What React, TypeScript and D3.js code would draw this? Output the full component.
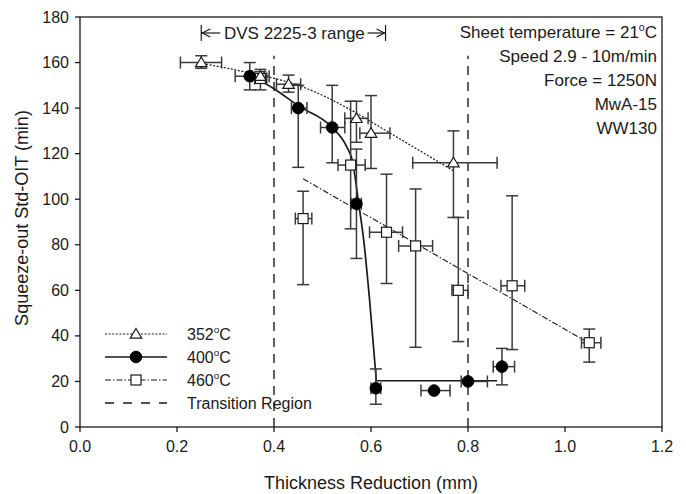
import React from "react";
import * as d3 from "d3";

// ---- data ----
const xTicks = [0.0, 0.2, 0.4, 0.6, 0.8, 1.0, 1.2];
const yTicks = [0, 20, 40, 60, 80, 100, 120, 140, 160, 180];

// 352 °C (open triangles)
const x352 = [0.25, 0.372, 0.43, 0.57, 0.6, 0.77];
const x352Lo = [0.207, 0.355, 0.405, 0.546, 0.577, 0.686];
const x352Hi = [0.292, 0.39, 0.455, 0.594, 0.639, 0.86];
const y352 = [160, 154, 150.5, 135.5, 129, 116];
const y352Lo = [157.5, 151, 147, 125, 113.5, 92];
const y352Hi = [163, 157, 154.5, 143, 145.5, 130];

// 400 °C (filled circles)
const x400 = [0.35, 0.45, 0.52, 0.57, 0.61, 0.73, 0.8, 0.87];
const x400Lo = [0.32, 0.436, 0.496, 0.56, 0.6, 0.703, 0.786, 0.852];
const x400Hi = [0.38, 0.468, 0.546, 0.58, 0.62, 0.763, 0.84, 0.896];
const y400 = [154, 140, 131.5, 98, 17, 16, 20, 26.5];
const y400Lo = [148, 114, 116, 74, 10, 16, 20, 18.5];
const y400Hi = [160, 150, 150, 122, 25.5, 16, 20, 34.5];

// 460 °C (open squares)
const x460 = [0.372, 0.46, 0.558, 0.632, 0.692, 0.78, 0.891, 1.05];
const x460Lo = [0.36, 0.444, 0.532, 0.597, 0.657, 0.767, 0.868, 1.034];
const x460Hi = [0.385, 0.478, 0.588, 0.665, 0.727, 0.8, 0.917, 1.074];
const y460 = [153, 91.5, 115, 85.5, 79.5, 60, 62, 37];
const y460Lo = [148, 62.5, 87, 63, 35, 37.5, 34, 28.5];
const y460Hi = [156, 103.5, 143, 111, 104.5, 92, 101.5, 43];

// fitted curves
const fit352X = [0.26, 0.344, 0.454, 0.572, 0.62, 0.77];
const fit352Y = [159.3, 155.7, 149.7, 137.6, 131.5, 112.5];
const fit400X = [0.35, 0.4, 0.45, 0.52, 0.55, 0.563, 0.569, 0.574, 0.585, 0.597, 0.611];
const fit400Y = [154.5, 148.5, 141, 131.5, 123, 115.6, 107, 99, 82, 56, 20.3];
const flat400X = [0.611, 0.86];
const flat400Y = [20.3, 20.3];
const fit460X = [0.46, 1.04];
const fit460Y = [109, 38];

// transition region lines
const transitionX = [0.4, 0.8];
const transitionTop = 163;

// DVS range
const dvsRange = [0.25, 0.63];

const infoLines = [
  ["Sheet temperature = 21", "C"],
  ["Speed 2.9 - 10m/min", ""],
  ["Force = 1250N", ""],
  ["MwA-15", ""],
  ["WW130", ""],
];

const legendItems = [
  { label: "352", kind: "tri" },
  { label: "400", kind: "circ" },
  { label: "460", kind: "sq" },
  { label: "Transition Region", kind: "trans" },
];

// ---- layout ----
const W = 686;
const H = 494;
const left = 80;
const right = 662;
const top = 17;
const bottom = 427;
const FONT = "'Liberation Sans', Arial, sans-serif";
const INK = "#1a1a1a";
const BAR = "#3a3a3a";

const xS = d3.scaleLinear().domain([0, 1.2]).range([left, right]);
const yS = d3.scaleLinear().domain([0, 180]).range([bottom, top]);

function ErrorBars({ xs, xl, xh, ys, yl, yh }: any) {
  const cap = 6;
  return (
    <g stroke={BAR} strokeWidth={1.5} fill="none">
      {xs.map((x: number, i: number) => {
        const px = xS(x);
        const py = yS(ys[i]);
        const out: any[] = [];
        if (yh[i] !== yl[i]) {
          out.push(<line key="v" x1={px} x2={px} y1={yS(yl[i])} y2={yS(yh[i])} />);
          out.push(<line key="vt" x1={px - cap} x2={px + cap} y1={yS(yh[i])} y2={yS(yh[i])} />);
          out.push(<line key="vb" x1={px - cap} x2={px + cap} y1={yS(yl[i])} y2={yS(yl[i])} />);
        }
        if (xh[i] !== xl[i]) {
          out.push(<line key="h" x1={xS(xl[i])} x2={xS(xh[i])} y1={py} y2={py} />);
          out.push(<line key="hl" x1={xS(xl[i])} x2={xS(xl[i])} y1={py - cap} y2={py + cap} />);
          out.push(<line key="hr" x1={xS(xh[i])} x2={xS(xh[i])} y1={py - cap} y2={py + cap} />);
        }
        return <g key={i}>{out}</g>;
      })}
    </g>
  );
}

function Marker({ kind, cx, cy }: any) {
  if (kind === "tri") {
    const s = 5.5;
    const d = `M${cx},${cy - s} L${cx + s * 1.05},${cy + s * 0.75} L${cx - s * 1.05},${cy + s * 0.75} Z`;
    return <path d={d} fill="#fff" stroke={INK} strokeWidth={1.2} />;
  }
  if (kind === "circ") return <circle cx={cx} cy={cy} r={5.8} fill="#000" stroke="#000" />;
  if (kind === "sq") return <rect x={cx - 5} y={cy - 5} width={10} height={10} fill="#fff" stroke={INK} strokeWidth={1.2} />;
  return null;
}

function linePath(xs: number[], ys: number[], curve: any) {
  const pts = xs.map((x, i) => [x, ys[i]] as [number, number]);
  return d3
    .line<[number, number]>()
    .x((d) => xS(d[0]))
    .y((d) => yS(d[1]))
    .curve(curve)(pts) as string;
}

function Deg({ base, rest }: any) {
  return (
    <>
      {base}
      <tspan dy={-7} fontSize="0.62em">o</tspan>
      <tspan dy={7}>{rest}</tspan>
    </>
  );
}

export default function App() {
  const dvsL = xS(dvsRange[0]);
  const dvsR = xS(dvsRange[1]);
  const dvsY = 33;
  const legX0 = 105;
  const legX1 = 167;
  const legRows = [334, 357, 380, 403];
  return (
    <svg width={W} height={H} style={{ position: "absolute", left: 0, top: 0, background: "#fff" }} fontFamily={FONT}>
      <rect x={0} y={0} width={W} height={H} fill="#fff" />
      {/* transition lines */}
      {transitionX.map((t) => (
        <line key={t} x1={xS(t)} x2={xS(t)} y1={yS(0)} y2={yS(transitionTop)} stroke={INK} strokeWidth={1.4} strokeDasharray="9,7" />
      ))}

      {/* fit lines */}
      <path d={linePath(fit352X, fit352Y, d3.curveMonotoneX)} fill="none" stroke={INK} strokeWidth={1.2} strokeDasharray="2,1.6" />
      <path d={linePath(fit400X, fit400Y, d3.curveMonotoneX)} fill="none" stroke={INK} strokeWidth={1.7} />
      <path d={linePath(flat400X, flat400Y, d3.curveLinear)} fill="none" stroke={INK} strokeWidth={1.7} />
      <path d={linePath(fit460X, fit460Y, d3.curveLinear)} fill="none" stroke={INK} strokeWidth={1.1} strokeDasharray="6,2,1.5,2" />

      {/* error bars */}
      <ErrorBars xs={x460} xl={x460Lo} xh={x460Hi} ys={y460} yl={y460Lo} yh={y460Hi} />
      <ErrorBars xs={x400} xl={x400Lo} xh={x400Hi} ys={y400} yl={y400Lo} yh={y400Hi} />
      <ErrorBars xs={x352} xl={x352Lo} xh={x352Hi} ys={y352} yl={y352Lo} yh={y352Hi} />

      {/* markers */}
      {x460.map((x, i) => <Marker key={"s" + i} kind="sq" cx={xS(x)} cy={yS(y460[i])} />)}
      {x400.map((x, i) => <Marker key={"c" + i} kind="circ" cx={xS(x)} cy={yS(y400[i])} />)}
      {x352.map((x, i) => <Marker key={"t" + i} kind="tri" cx={xS(x)} cy={yS(y352[i])} />)}

      {/* frame */}
      <rect x={left} y={top} width={right - left} height={bottom - top} fill="none" stroke={INK} strokeWidth={1.3} />

      {/* axes ticks */}
      {xTicks.map((t) => (
        <g key={"xt" + t}>
          <line x1={xS(t)} x2={xS(t)} y1={bottom} y2={bottom + 5} stroke={INK} strokeWidth={1.3} />
          <text x={xS(t)} y={452} textAnchor="middle" fontSize={16} fill={INK}>{t.toFixed(1)}</text>
        </g>
      ))}
      {yTicks.map((t) => (
        <g key={"yt" + t}>
          <line x1={left - 5} x2={left} y1={yS(t)} y2={yS(t)} stroke={INK} strokeWidth={1.3} />
          <text x={69} y={yS(t) + 5.5} textAnchor="end" fontSize={16} fill={INK}>{t}</text>
        </g>
      ))}

      {/* axis titles */}
      <text x={371} y={489} textAnchor="middle" fontSize={18} fill={INK}>Thickness Reduction (mm)</text>
      <text transform={`translate(28,${(top + bottom) / 2 - 4}) rotate(-90)`} textAnchor="middle" fontSize={18} fill={INK}>Squeeze-out Std-OIT (min)</text>

      {/* DVS range annotation */}
      <g stroke={INK} strokeWidth={1.2} fill="none">
        <line x1={dvsL} x2={dvsL} y1={dvsY - 8} y2={dvsY + 8} />
        <line x1={dvsL} x2={dvsL + 19} y1={dvsY} y2={dvsY} />
        <polyline points={`${dvsL + 9},${dvsY - 4} ${dvsL + 1},${dvsY} ${dvsL + 9},${dvsY + 4}`} />
        <line x1={dvsR} x2={dvsR} y1={dvsY - 8} y2={dvsY + 8} />
        <line x1={dvsR - 18} x2={dvsR} y1={dvsY} y2={dvsY} />
        <polyline points={`${dvsR - 9},${dvsY - 4} ${dvsR - 1},${dvsY} ${dvsR - 9},${dvsY + 4}`} />
      </g>
      <text x={(dvsL + dvsR) / 2 + 1} y={dvsY + 6} textAnchor="middle" fontSize={17} fill={INK}>DVS 2225-3 range</text>

      {/* info */}
      {infoLines.map((l, i) => (
        <text key={i} x={657} y={38 + i * 24} textAnchor="end" fontSize={17} fill={INK}>
          {l[1] ? <Deg base={l[0]} rest={l[1]} /> : l[0]}
        </text>
      ))}

      {/* legend */}
      {legendItems.map((it, i) => {
        const y = legRows[i];
        const mid = (legX0 + legX1) / 2;
        let line: any = null;
        if (it.kind === "tri") line = <line x1={legX0} x2={legX1} y1={y} y2={y} stroke={INK} strokeWidth={1.1} strokeDasharray="2,1.6" />;
        if (it.kind === "circ") line = <line x1={legX0} x2={legX1} y1={y} y2={y} stroke={INK} strokeWidth={1.7} />;
        if (it.kind === "sq") line = <line x1={legX0} x2={legX1} y1={y} y2={y} stroke={INK} strokeWidth={1.1} strokeDasharray="6,2,1.5,2" />;
        if (it.kind === "trans") line = <line x1={legX0} x2={legX1} y1={y} y2={y} stroke={INK} strokeWidth={1.4} strokeDasharray="9,9" />;
        return (
          <g key={i}>
            {line}
            {it.kind !== "trans" && <Marker kind={it.kind} cx={mid} cy={y} />}
            <text x={187} y={y + 6} fontSize={16} fill={INK}>
              {it.kind === "trans" ? it.label : <Deg base={it.label} rest="C" />}
            </text>
          </g>
        );
      })}
    </svg>
  );
}
